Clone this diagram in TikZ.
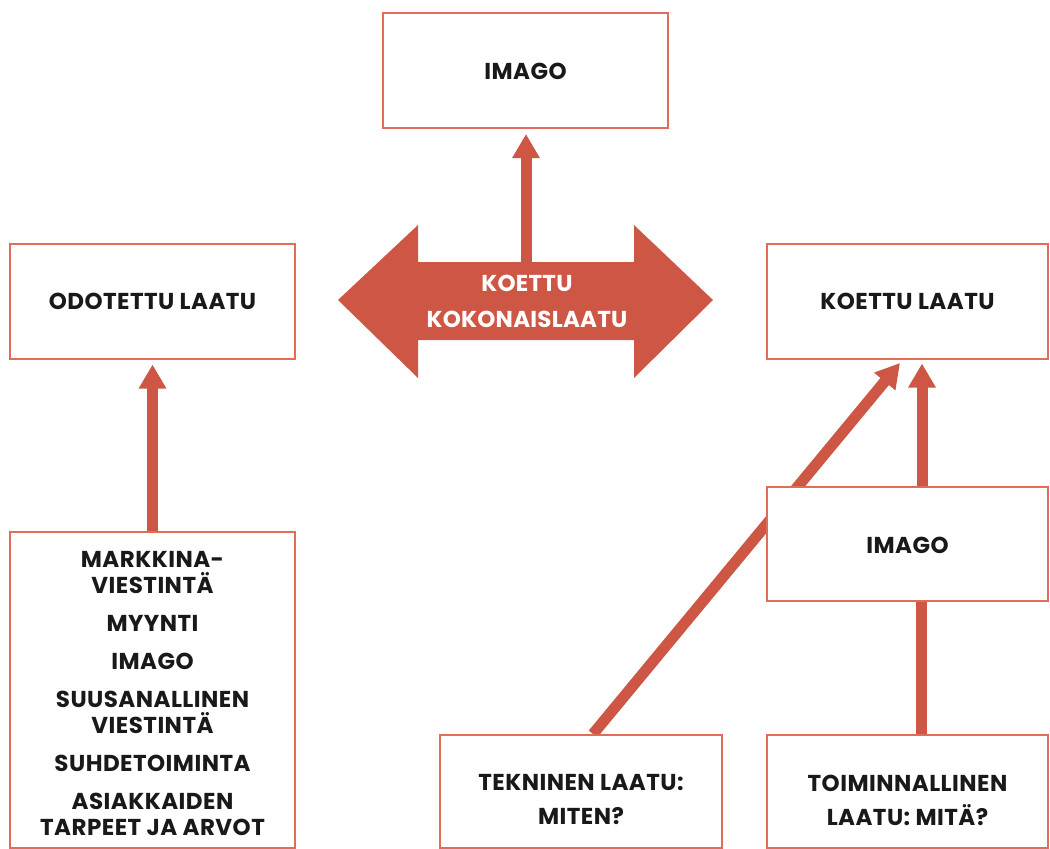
\documentclass[tikz,border=0pt]{standalone}
\usepackage{fontspec}
\newfontfamily\labfont{Poppins}[LetterSpace=2]
\newfontfamily\arrfont{Poppins}[LetterSpace=1]
\usetikzlibrary{arrows.meta}
\pgfdeclarelayer{bg}
\pgfsetlayers{bg,main}
\definecolor{boxred}{RGB}{224,108,90}
\definecolor{arrred}{RGB}{206,86,68}
\definecolor{txt}{RGB}{25,25,25}
\tikzset{
  box/.style={draw=boxred, line width=2pt, fill=white, inner sep=0pt},
  lab/.style={font=\labfont\bfseries\fontsize{23}{26}\selectfont, text=txt, align=center, inner sep=0pt},
  conn/.style={draw=arrred, line width=11pt},
  arr/.style={conn, -{Triangle[length=24pt,width=26pt]}},
}
\begin{document}
\begin{tikzpicture}[x=1pt,y=-1pt]
\useasboundingbox (0,0) rectangle (1050,849);
% boxes
\node[box, minimum width=285pt, minimum height=115pt] (imgtop) at (525.5,70.5) {};
\node[lab] (imgtoptxt) at (525.5,71) {IMAGO};
\node[box, minimum width=285pt, minimum height=115pt] (odo) at (152.5,301) {};
\node[lab] (odotxt) at (152.5,301) {ODOTETTU LAATU};
\node[box, minimum width=281pt, minimum height=115pt] (koe) at (907.5,301) {};
\node[lab] (koetxt) at (907.5,301) {KOETTU LAATU};
\node[box, minimum width=281pt, minimum height=114pt] (imgr) at (907.5,544) {};
\node[lab] (imgrtxt) at (907.5,545) {IMAGO};
\node[box, minimum width=285pt, minimum height=316pt] (lbox) at (152.5,690) {};
\node[lab] (lboxtxt) at (152.5,693) {MARKKINA-\\VIESTINTÄ\\[12pt]MYYNTI\\[12pt]IMAGO\\[12pt]SUUSANALLINEN\\VIESTINTÄ\\[12pt]SUHDETOIMINTA\\[12pt]ASIAKKAIDEN\\TARPEET JA ARVOT};
\node[box, minimum width=282pt, minimum height=113pt] (tek) at (581,791.5) {};
\node[lab, font=\labfont\bfseries\fontsize{23}{34}\selectfont] (tektxt) at (581,800) {TEKNINEN LAATU:\\MITEN?};
\node[box, minimum width=281pt, minimum height=113pt] (toi) at (907.5,791.5) {};
\node[lab, font=\labfont\bfseries\fontsize{23}{34}\selectfont] (toitxt) at (907.5,800) {TOIMINNALLINEN\\LAATU: MITÄ?};
% big double arrow
\fill[arrred] (338,300) -- (418,225) -- (418,262) -- (634,262) -- (634,225) -- (713,300)
  -- (634,378) -- (634,340) -- (418,340) -- (418,378) -- cycle;
\node[lab, text=white, font=\arrfont\bfseries\fontsize{23}{36}\selectfont] (koko) at (527,301) {KOETTU\\KOKONAISLAATU};
\coordinate (bodytop) at (526,262);
\coordinate (dtip) at (900,363);
\begin{pgfonlayer}{bg}
\draw[arr, shorten >=5pt] (bodytop) -- (imgtop.south -| bodytop);
\draw[arr, shorten >=5pt] (lbox.north) -- (odo.south);
\draw[arr, shorten >=4pt] ([xshift=14.5pt]imgr.north) -- ([xshift=14.5pt]koe.south);
\draw[conn] ([xshift=14pt]toi.north) -- ([xshift=14pt]imgr.south);
\draw[arr] ([xshift=12pt]tek.north) -- (dtip);
\end{pgfonlayer}
\end{tikzpicture}
\end{document}
